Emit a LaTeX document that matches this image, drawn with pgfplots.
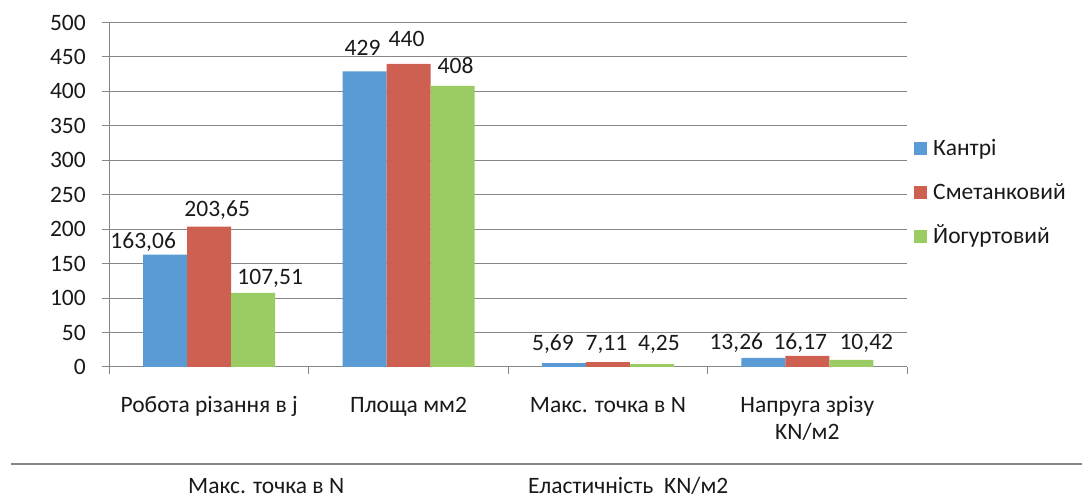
\documentclass[border=0pt]{standalone}
\usepackage{pgfplots}
\pgfplotsset{compat=1.18}
\usepackage{pgfplotstable}
\usepackage{fontspec}
\setmainfont{Carlito}
\newcommand\cf{\fontsize{23.5}{27}\selectfont}

\definecolor{kantri}{RGB}{91,155,213}
\definecolor{smetan}{RGB}{205,96,80}
\definecolor{yogurt}{RGB}{155,204,99}
\definecolor{axisgray}{RGB}{134,134,134}
\definecolor{txt}{RGB}{25,25,25}

% columns: category, value, printed label, label offsets (pt)
\pgfplotstableread{
x  y       lab     dx    dy
0  163.06  163,06  -22   6.6
1  429     429     -2    16.4
2  5.69    5,69    -11   13
3  13.26   13,26   -27   8
}\tabKantri
\pgfplotstableread{
x  y       lab     dx    dy
0  203.65  203,65  8     9.7
1  440     440     -2    17.8
2  7.11    7,11    -1.5  12
3  16.17   16,17   -7    6
}\tabSmetan
\pgfplotstableread{
x  y       lab     dx    dy
0  107.51  107,51  17    8
1  408     408     3     12
2  4.25    4,25    7     14
3  10.42   10,42   15    10
}\tabYogurt

\begin{document}
\begin{tikzpicture}[font=\cf, text=txt]
\useasboundingbox (0pt,0pt) rectangle (1082pt,500pt);
% remnants of the table below the chart
\draw[axisgray, line width=1.3pt] (11pt,36pt) -- (1082pt,36pt);
\node[anchor=base west, inner sep=0pt] at (188pt,6pt) {Макс. точка в N};
\node[anchor=base west, inner sep=0pt] at (528pt,6pt) {Еластичність\ \ KN/м2};
\begin{axis}[
  at={(109.5pt,133pt)}, anchor=south west,
  scale only axis, width=797.5pt, height=344.5pt,
  ybar=0pt, bar width=44pt,
  ymin=0, ymax=500, ytick distance=50,
  xmin=-0.5, xmax=3.5,
  axis lines*=left,
  axis line style={axisgray, line width=1pt},
  tick style={axisgray, line width=1pt},
  tick align=outside,
  major tick length=7.5pt,
  ymajorgrids, grid style={axisgray, line width=1pt},
  xtick={-0.5,0.5,1.5,2.5,3.5}, xticklabels={},
  extra x ticks={0,1,2,3},
  extra x tick labels={Робота різання в j, Площа мм2, Макс. точка в N,
    {\begin{tabular}[t]{@{}c@{}}Напруга зрізу\\KN/м2\end{tabular}}},
  extra x tick style={major tick length=0pt,
    xticklabel style={anchor=base, inner sep=0pt, yshift=-46pt}},
  /pgf/number format/assume math mode=true,
  every tick label/.append style={font=\cf, text=txt},
  yticklabel style={inner sep=0pt, xshift=-16pt},
  nodes near coords,
  point meta=explicit symbolic,
  visualization depends on={\thisrow{dx}\as\labdx},
  visualization depends on={\thisrow{dy}\as\labdy},
  nodes near coords style={font=\cf, text=txt, anchor=base, inner sep=0pt,
    xshift=\labdx pt, yshift=\labdy pt},
  legend style={at={(1.0088,0.6676)}, anchor=north west, draw=none, fill=none,
    inner sep=0pt, row sep=20pt, font=\cf,
    nodes={inner sep=0pt, text height=18pt, text depth=6pt, anchor=base west}},
  legend cell align=left,
  legend image code/.code={\fill[#1] (0pt,0pt) rectangle (13pt,13pt); \path (19pt,0pt);},
]
\addplot[fill=kantri, draw=none] table[x=x, y=y, meta=lab] {\tabKantri};
\addplot[fill=smetan, draw=none] table[x=x, y=y, meta=lab] {\tabSmetan};
\addplot[fill=yogurt, draw=none] table[x=x, y=y, meta=lab] {\tabYogurt};
\legend{Кантрі, Сметанковий, Йогуртовий}
\end{axis}
\end{tikzpicture}
\end{document}
